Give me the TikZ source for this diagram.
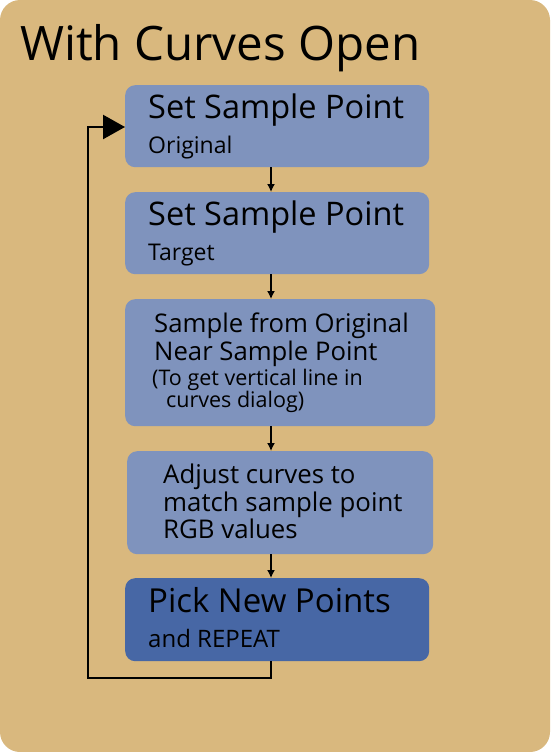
\documentclass[tikz,border=0pt]{standalone}
\usepackage{fontspec}
\setmainfont{Open Sans}
\usepackage{tikz}
\usetikzlibrary{arrows.meta, positioning, calc}
\definecolor{panelbg}{HTML}{D9B87E}
\definecolor{stepfill}{HTML}{7F93BD}
\definecolor{lastfill}{HTML}{4767A5}
\tikzset{
    block/.style={rectangle, rounded corners=10pt, fill=stepfill, draw=none, minimum width=304pt, anchor=north west, inner sep=0pt},
    line/.style={anchor=base west, inner sep=0pt},
    arrow/.style={line width=1.4pt, -{Latex[length=8pt, width=8pt]}},
    loop/.style={line width=2.4pt, -{Triangle[length=22pt, width=24pt]}}
}
\begin{document}
\begin{tikzpicture}[x=1pt, y=-1pt]
            \useasboundingbox (0,0) rectangle (550,752);
            \fill[panelbg, rounded corners=20pt] (0,0) rectangle (550,752);

            \node[line, font=\fontsize{47.5}{50}\selectfont] (title) at (20,60) {With Curves Open};

            \node[block, minimum height=82pt] (original) at (125,85) {};
            \node[block, minimum height=82pt] (target) at (125,192) {};
            \node[block, minimum height=127pt, minimum width=310pt] (near) at (125,299) {};
            \node[block, minimum height=103pt, minimum width=306pt] (adjust) at (127,451) {};
            \node[block, minimum height=83pt, fill=lastfill] (repeat) at (125,578) {};

            \node[line, font=\fontsize{32.5}{34}\selectfont] (original_head) at (148,118) {Set Sample Point};
            \node[line, font=\fontsize{23}{24}\selectfont] (original_sub) at (148,153) {Original};
            \node[line, font=\fontsize{32.5}{34}\selectfont] (target_head) at (148,225) {Set Sample Point};
            \node[line, font=\fontsize{23}{24}\selectfont] (target_sub) at (148,260) {Target};
            \node[line, font=\fontsize{25.7}{28}\selectfont] (near_a) at (154,332) {Sample from Original};
            \node[line, font=\fontsize{25.7}{28}\selectfont] (near_b) at (154,360) {Near Sample Point};
            \node[line, font=\fontsize{21.5}{22}\selectfont] (near_c) at (152,385) {(To get vertical line in};
            \node[line, font=\fontsize{21.5}{22}\selectfont] (near_d) at (166,407) {curves dialog)};
            \node[line, font=\fontsize{25.8}{28}\selectfont] (adjust_a) at (163,483) {Adjust curves to};
            \node[line, font=\fontsize{25.8}{28}\selectfont] (adjust_b) at (163,511) {match sample point};
            \node[line, font=\fontsize{25.8}{28}\selectfont] (adjust_c) at (163,538) {RGB values};
            \node[line, font=\fontsize{33}{34}\selectfont] (repeat_head) at (148,612) {Pick New Points};
            \node[line, font=\fontsize{24}{24}\selectfont] (repeat_sub) at (148,647) {and REPEAT};

            \coordinate (spine) at (271,0);
            \coordinate (corner_low) at (88,678);
            \coordinate (corner_high) at (88,127);

            \draw[arrow] (original.south -| spine) -- (target.north -| spine);
            \draw[arrow] (target.south -| spine) -- (near.north -| spine);
            \draw[arrow] (near.south -| spine) -- (adjust.north -| spine);
            \draw[arrow] (adjust.south -| spine) -- (repeat.north -| spine);
            \draw[loop] (repeat.south -| spine) |- (corner_low) -- (corner_high) -- (corner_high -| original.west);
        \end{tikzpicture}
\end{document}
